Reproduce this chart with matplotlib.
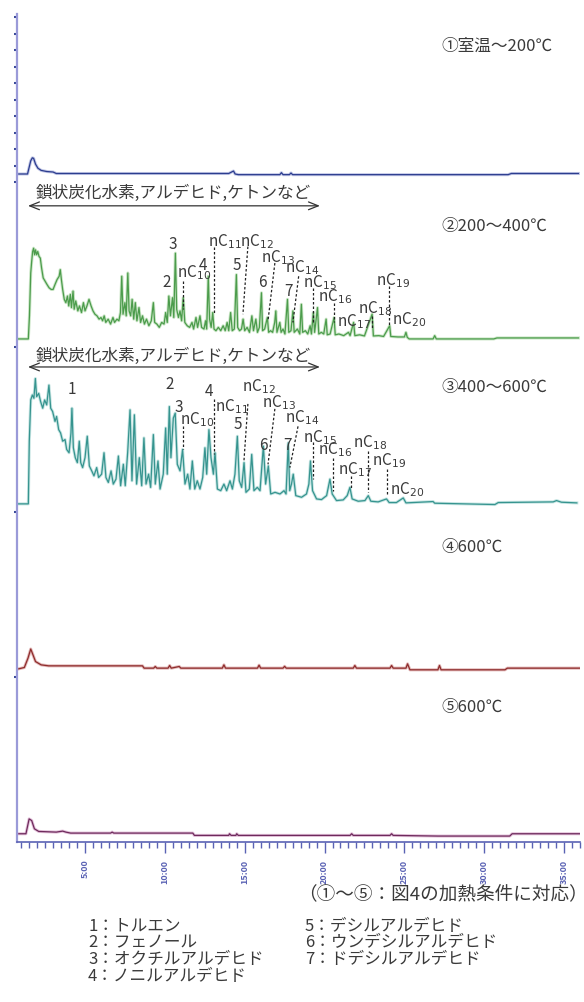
import numpy as np
import matplotlib
matplotlib.use('Agg')
import matplotlib.pyplot as plt
from matplotlib.ticker import MultipleLocator, FuncFormatter

plt.rcParams['font.family'] = ['Noto Sans CJK JP', 'DejaVu Sans']

## データ: 保持時間 (min), 強度 (各段の基線からの相対値)
# ① 室温~200℃
p1 = [(0.85, 0), (1.40, 0), (1.50, 4), (1.60, 8), (1.70, 9.8), (1.78, 9.5), (1.90, 6),
      (2.05, 3.5), (2.25, 2.2), (2.60, 1.5), (3.00, 1.2), (3.20, 0.3), (14.0, 0.3),
      (14.3, 1.8), (14.4, 0), (14.6, -0.4), (17.2, -0.4), (17.3, 0.8), (17.4, -0.4),
      (17.8, -0.4), (17.9, 0.6), (18.0, -0.4), (31.5, -0.4), (31.7, 0.3), (35.9, 0.3)]

# ② 200~400℃
p2 = [(0.82, 0), (1.45, 0), (1.52, 14), (1.60, 40), (1.66, 47), (1.72, 53), (1.78, 55),
      (1.84, 51), (1.90, 54), (1.97, 51), (2.04, 53), (2.12, 50), (2.20, 49), (2.28, 43),
      (2.38, 37), (2.50, 35), (2.62, 33), (2.75, 31), (2.88, 30), (3.00, 30), (3.12, 33),
      (3.25, 36), (3.38, 38), (3.45, 42), (3.52, 36), (3.60, 30), (3.70, 24), (3.80, 22),
      (3.90, 26), (3.98, 20), (4.08, 27), (4.15, 19), (4.25, 29), (4.32, 18), (4.42, 23),
      (4.55, 17), (4.65, 20), (4.78, 16), (4.90, 22), (5.00, 17), (5.12, 20), (5.25, 24),
      (5.38, 20), (5.50, 17), (5.62, 15), (5.75, 14), (5.88, 12), (6.00, 13), (6.10, 11),
      (6.20, 14), (6.30, 10), (6.45, 12), (6.60, 9), (6.75, 13), (6.85, 10), (7.00, 12),
      (7.12, 11), (7.22, 16), (7.30, 38), (7.38, 15), (7.50, 22), (7.58, 14), (7.68, 40),
      (7.76, 17), (7.86, 14), (7.95, 24), (8.05, 12), (8.15, 22), (8.25, 11), (8.38, 19),
      (8.48, 10), (8.60, 14), (8.72, 9), (8.85, 12), (9.00, 8), (9.15, 11), (9.28, 22),
      (9.36, 10), (9.50, 9), (9.65, 7), (9.80, 10), (9.95, 9), (10.05, 16), (10.15, 10),
      (10.25, 26), (10.35, 14), (10.48, 25), (10.56, 13), (10.66, 52), (10.74, 18),
      (10.85, 13), (10.95, 17), (11.05, 11), (11.15, 25), (11.25, 10), (11.40, 8),
      (11.55, 7), (11.70, 10), (11.80, 6), (11.95, 13), (12.05, 7), (12.20, 14), (12.30, 7),
      (12.45, 6), (12.55, 11), (12.62, 6), (12.72, 38), (12.80, 12), (12.90, 7), (13.00, 16),
      (13.08, 6), (13.20, 5), (13.35, 7), (13.50, 5), (13.65, 8), (13.78, 5), (13.90, 10),
      (14.00, 5), (14.12, 16), (14.22, 5), (14.35, 6), (14.48, 39), (14.56, 7), (14.68, 5),
      (14.80, 6), (14.90, 12), (15.00, 5), (15.15, 7), (15.30, 4), (15.45, 14), (15.55, 5),
      (15.70, 12), (15.80, 4), (15.92, 7), (16.05, 28), (16.12, 5), (16.25, 6), (16.42, 13),
      (16.50, 4), (16.62, 5), (16.75, 4), (16.88, 10), (16.95, 17), (17.02, 4), (17.20, 10),
      (17.28, 4), (17.40, 6), (17.52, 3), (17.68, 24), (17.76, 4), (17.90, 5), (18.02, 17),
      (18.10, 4), (18.30, 6), (18.45, 3), (18.55, 21), (18.63, 4), (18.80, 5), (18.95, 3),
      (19.10, 8), (19.18, 3), (19.30, 16), (19.38, 4), (19.56, 19), (19.64, 3), (19.80, 4),
      (19.95, 3), (20.10, 12), (20.17, 2.5), (20.35, 3), (20.60, 13), (20.67, 2.5),
      (20.90, 3), (21.20, 2), (21.50, 4), (21.60, 2), (21.82, 10), (21.90, 2), (22.20, 2.5),
      (22.50, 1.8), (22.98, 15), (23.06, 1.8), (23.40, 2), (23.70, 1.5), (24.08, 8),
      (24.15, 1.5), (24.60, 1.2), (25.00, 1.2), (25.10, 4), (25.18, 1), (25.30, 0),
      (26.80, 0), (26.90, 2), (27.00, 0), (30.60, 0), (30.80, 0.6), (35.9, 0.6)]

# ③ 400~600℃
p3 = [(0.82, 0), (1.45, 0), (1.51, 38), (1.60, 63), (1.70, 66), (1.80, 64), (1.89, 76),
      (1.97, 65), (2.10, 67), (2.22, 62), (2.35, 58), (2.47, 63), (2.60, 60), (2.74, 72),
      (2.85, 58), (2.97, 56), (3.12, 50), (3.22, 53), (3.35, 45), (3.47, 43), (3.60, 38),
      (3.75, 39), (3.85, 33), (4.00, 31), (4.12, 43), (4.18, 58), (4.27, 34), (4.39, 28),
      (4.52, 25), (4.64, 38), (4.73, 25), (4.85, 22), (5.00, 28), (5.14, 41), (5.27, 23),
      (5.42, 20), (5.56, 17), (5.73, 22), (5.85, 16), (6.04, 18), (6.19, 31), (6.31, 16),
      (6.46, 13), (6.63, 20), (6.77, 12), (6.94, 15), (7.09, 29), (7.23, 11), (7.40, 24),
      (7.52, 11), (7.67, 31), (7.82, 57), (7.94, 14), (8.09, 54), (8.23, 12), (8.40, 28),
      (8.55, 11), (8.69, 40), (8.82, 12), (8.98, 18), (9.11, 10), (9.28, 42), (9.40, 12),
      (9.57, 26), (9.70, 9), (9.90, 18), (10.05, 46), (10.15, 18), (10.28, 59), (10.38, 28),
      (10.53, 52), (10.65, 55), (10.78, 24), (10.95, 20), (11.11, 33), (11.26, 12),
      (11.43, 18), (11.57, 9), (11.72, 26), (11.87, 9), (12.03, 14), (12.20, 9), (12.37, 16),
      (12.51, 34), (12.62, 18), (12.76, 45), (12.89, 28), (13.04, 18), (13.14, 31),
      (13.29, 9), (13.50, 8), (13.70, 12), (13.87, 8), (14.08, 14), (14.23, 9), (14.39, 18),
      (14.54, 41), (14.66, 14), (14.81, 10), (14.96, 25), (15.08, 7), (15.29, 9), (15.44, 30),
      (15.58, 8), (15.79, 10), (15.96, 8), (16.17, 35), (16.31, 12), (16.48, 23), (16.63, 6),
      (16.90, 7), (17.21, 6), (17.46, 8), (17.59, 6), (17.73, 37), (17.82, 8), (17.93, 12),
      (18.04, 18), (18.20, 5), (18.56, 4), (18.87, 6), (19.02, 12), (19.12, 26), (19.25, 8),
      (19.50, 3), (19.81, 2.6), (20.13, 5), (20.34, 15), (20.48, 6), (20.75, 2),
      (21.17, 2.4), (21.42, 5), (21.59, 10), (21.73, 3), (22.11, 1.6), (22.53, 2),
      (22.74, 5), (22.90, 1.6), (23.36, 1.2), (23.88, 3), (24.05, 0.8), (24.50, 0.8),
      (24.93, 3.6), (25.10, 0.6), (26.80, 1.4), (26.90, 0.4), (30.67, -0.4), (30.88, 0.8),
      (34.32, 1.2), (34.53, 2), (34.84, 1), (35.8, 0.6)]

# ④ 600℃
p4 = [(0.85, 0), (1.20, 0.8), (1.43, 6.5), (1.60, 12), (1.74, 8.5), (1.90, 4.4),
      (2.25, 2.4), (2.72, 1.8), (8.60, 1.8), (8.70, 0.4), (9.30, 0.4), (9.40, 1.4),
      (9.50, 0.4), (10.20, 0.4), (10.30, 2), (10.40, 0.4), (10.90, 1.4), (11.00, 0.4),
      (13.60, 0.4), (13.70, 2.4), (13.80, 0.4), (15.80, 0.4), (15.90, 2.2), (16.00, 0.4),
      (17.40, 0.4), (17.50, 1.5), (17.60, 0.4), (21.80, 0.4), (21.90, 2), (22.00, 0.4),
      (24.10, 0.4), (24.20, 2), (24.30, 0.4), (25.10, 0.4), (25.20, 3), (25.35, -0.6),
      (27.10, -0.6), (27.20, 2), (27.30, -0.6), (31.30, -0.6), (31.45, 0.4), (36.0, 0.4)]

# ⑤ 600℃
p5 = [(0.85, 0), (1.30, 0), (1.50, 9), (1.66, 8), (1.83, 3), (2.10, 1.4), (3.20, 1.0),
      (3.60, 1.6), (3.80, 1.0), (4.10, 0.4), (6.60, 0.4), (6.70, 1.0), (6.80, 0.4),
      (11.75, 0.4), (11.85, -1.0), (14.00, -1.0), (14.05, 0), (14.15, -1.0), (14.45, -1.0),
      (14.50, 0), (14.60, -1.0), (21.60, -1.0), (21.70, 0), (21.80, -1.0), (24.10, -1.0),
      (24.20, 0), (24.30, -1.0), (27.10, -1.4), (28.00, -1.4), (31.60, -1.4), (31.75, 0),
      (36.0, 0)]

offsets = [400, 300, 200, 100, 0]
colors = ['#2c3d8f', '#4c9c4c', '#36948f', '#8e2c2c', '#6e2a5c']
glows = ['#9aa3d6', '#a9d6a2', '#9fd3cf', '#d08a8a', '#d096c0']

panel_labels = ['①室温～200℃', '②200～400℃', '③400～600℃', '④600℃', '⑤600℃']
panel_label_y = [78, 68.6, 70.9, 73.9, 76.9]

# ピーク番号・n-アルカン (テキスト, 保持時間, 高さ)
lab2 = [('2', 10.13, 35), ('3', 10.51, 58), ('4', 12.40, 45), ('5', 14.51, 45),
        ('6', 16.08, 35), ('7', 17.77, 29.5)]
nc2 = [('10', 10.76, 41), ('11', 12.72, 59.5), ('12', 14.70, 59.5), ('13', 16.05, 50),
       ('14', 17.52, 44), ('15', 18.65, 35), ('16', 19.60, 26), ('17', 20.80, 11),
       ('18', 22.10, 19), ('19', 23.20, 36), ('20', 24.20, 12)]
dash2 = [(11.13, 35, 11.13, 18), (13.07, 56, 13.07, 16), (15.20, 56, 14.89, 15),
         (16.89, 46, 16.46, 11), (18.38, 38, 18.02, 10), (19.30, 31, 19.30, 10),
         (20.60, 22, 20.60, 10), (22.97, 14, 22.97, 6), (24.06, 32, 24.06, 8)]

lab3 = [('1', 4.16, 70), ('2', 10.32, 73), ('3', 10.88, 59), ('4', 12.76, 68.5),
        ('5', 14.58, 48.5), ('6', 16.14, 36), ('7', 17.65, 36)]
nc3 = [('10', 10.95, 51.5), ('11', 13.15, 59.5), ('12', 14.83, 71.5), ('13', 16.08, 62),
       ('14', 17.52, 53), ('15', 18.65, 41), ('16', 19.60, 33.5), ('17', 20.85, 21.5),
       ('18', 21.78, 37.5), ('19', 22.97, 27), ('20', 24.10, 9)]
dash3 = [(11.13, 47, 11.13, 33), (13.07, 63.6, 13.07, 30), (15.20, 60.6, 14.95, 25.5),
         (16.89, 57.6, 16.46, 24), (18.34, 47, 17.83, 22), (19.27, 37.5, 19.27, 15),
         (20.53, 28, 20.53, 8), (21.65, 17, 21.65, 9), (22.72, 32, 22.72, 7),
         (23.90, 21, 23.90, 5)]

arrow_text = '鎖状炭化水素,アルデヒド,ケトンなど'

legend1 = ['1：トルエン', '2：フェノール', '3：オクチルアルデヒド', '4：ノニルアルデヒド']
legend2 = ['5：デシルアルデヒド', '6：ウンデシルアルデヒド', '7：ドデシルアルデヒド']
note = '（①～⑤：図4の加熱条件に対応）'

# 図の作成
W, H = 584, 1003
fig = plt.figure(figsize=(W/100, H/100), dpi=100)
ax = fig.add_axes([17/W, 160/H, 563/W, 828/H])
ax.set_xlim(0.74, 36.0)
ax.set_ylim(-5, 497)

data = [p1, p2, p3, p4, p5]
for p, off, c, g in zip(data, offsets, colors, glows):
    t, y = np.array(p).T
    ax.plot(t, y + off, color=g, lw=2.2, alpha=0.6, solid_joinstyle='round')
    ax.plot(t, y + off, color=c, lw=0.9, solid_joinstyle='round')

txt = '#3a3a3a'
for lab, off, yl in zip(panel_labels, offsets, panel_label_y):
    ax.text(27.35, off + yl, lab, fontsize=12, ha='left', va='center', color=txt)

# 矢印
for off, ya, yt in [(300, 80.7, 88.6), (200, 83, 90.3)]:
    ax.annotate('', xy=(1.43, off + ya), xytext=(19.71, off + ya),
                arrowprops=dict(arrowstyle='<->,head_length=0.7,head_width=0.28',
                                lw=0.9, color='#333333', shrinkA=0, shrinkB=0))
    ax.text(10.5, off + yt, arrow_text, fontsize=12, ha='center', va='center', color=txt)

# ピークラベル
for labs, ncs, dashes, off in [(lab2, nc2, dash2, 300), (lab3, nc3, dash3, 200)]:
    for s, t, u in labs:
        ax.text(t, off + u, s, fontsize=11, ha='center', va='center', color=txt)
    for s, t, u in ncs:
        ax.text(t, off + u, 'nC$_{' + s + '}$', fontsize=11, ha='left', va='center',
                color=txt)
    for x0, y0, x1, y1 in dashes:
        ax.plot([x0, x1], [off + y0, off + y1], color='#222222', lw=0.9,
                dashes=(2, 1.6))

# 軸
for s in ['top', 'right']:
    ax.spines[s].set_visible(False)
ax.spines['left'].set_color('#9a9ad8')
ax.spines['left'].set_linewidth(1.6)
ax.spines['bottom'].set_color('#5a62b4')
ax.spines['bottom'].set_linewidth(1.2)

ax.xaxis.set_major_locator(MultipleLocator(5))
ax.xaxis.set_minor_locator(MultipleLocator(0.5))
ax.xaxis.set_major_formatter(FuncFormatter(lambda v, pos: f'{int(v)}:00'))
ax.tick_params(axis='x', which='major', length=8, width=1, color='#5a62b4',
               labelsize=6.5, labelcolor='#5a62b4', labelrotation=90, pad=4)
ax.tick_params(axis='x', which='minor', length=4, width=1, color='#5a62b4')
for lbl in ax.get_xticklabels():
    lbl.set_fontweight('bold')
ax.set_yticks([95, 195, 295] + list(range(395, 496, 10)))
ax.set_yticklabels([])
ax.tick_params(axis='y', length=2.5, width=1.5, color='#3a4a9a')

# 注記と凡例
fig.text(298/W, 1 - 894/H, note, fontsize=13.4, ha='left', va='center', color=txt)
for i, s in enumerate(legend1):
    fig.text(88/W, 1 - (926 + 17*i)/H, s, fontsize=12, ha='left', va='center', color=txt)
for i, s in enumerate(legend2):
    fig.text(305/W, 1 - (926 + 17*i)/H, s, fontsize=12, ha='left', va='center', color=txt)

fig.savefig('out.png', dpi=100)
